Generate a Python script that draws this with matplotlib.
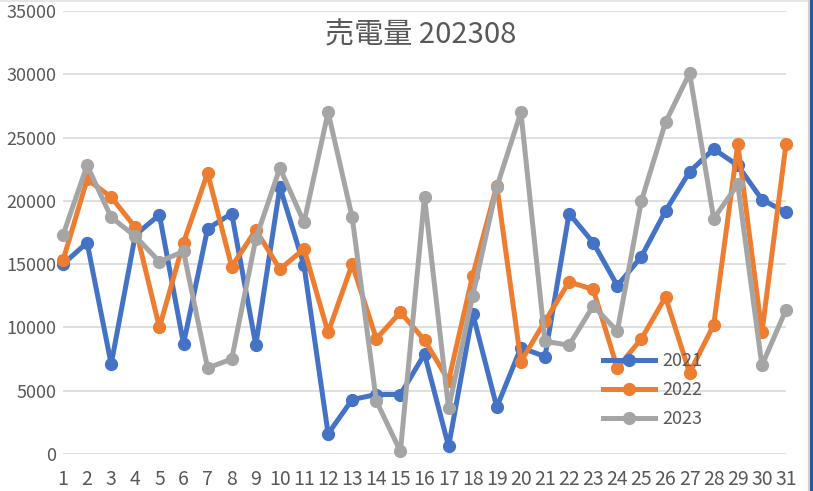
import matplotlib
matplotlib.use("Agg")
import matplotlib.pyplot as plt
from matplotlib.patches import Rectangle
from matplotlib.lines import Line2D

plt.rcParams['font.family'] = ['Noto Sans CJK JP', 'DejaVu Sans']

# data
days = list(range(1, 32))
day_labels = [str(d) for d in days]
series_names = ['2021', '2022', '2023']
y2021 = [15000, 16700, 7100, 17300, 18900, 8700, 17800, 19000, 8600, 21100,
         14900, 1600, 4300, 4700, 4700, 7900, 600, 11100, 3700, 8400,
         7700, 19000, 16700, 13300, 15600, 19200, 22300, 24100, 22800, 20100, 19100]
y2022 = [15300, 21700, 20300, 17900, 10000, 16700, 22200, 14800, 17700, 14600,
         16200, 9600, 15000, 9100, 11200, 9000, 5800, 14100, 21200, 7300,
         10500, 13600, 13000, 6800, 9100, 12400, 6400, 10200, 24500, 9600, 24500]
y2023 = [17300, 22800, 18700, 17200, 15200, 16000, 6800, 7500, 17000, 22600,
         18300, 27000, 18700, 4200, 200, 20300, 3600, 12500, 21100, 27000,
         8900, 8600, 11700, 9700, 20000, 26200, 30100, 18600, 21300, 7000, 11400]
y_ticks = [0, 5000, 10000, 15000, 20000, 25000, 30000, 35000]
title = '売電量 202308'

colors = ['#4472C4', '#ED7D31', '#A5A5A5']
W, H = 813, 491

fig = plt.figure(figsize=(W / 100, H / 100), dpi=100)
# plot area in pixels: x 63..786, y 11..454
ax = fig.add_axes([63 / W, 1 - 454 / H, (786 - 63) / W, (454 - 11) / H])

for vals, name, c in zip([y2021, y2022, y2023], series_names, colors):
    ax.plot(days, vals, color=c, lw=3.6, marker='o', markersize=8.5,
            solid_joinstyle='round', label=name, clip_on=False)

ax.set_xlim(1, 31)
ax.set_ylim(0, 35000)
ax.set_yticks(y_ticks)
ax.set_yticklabels([str(v) for v in y_ticks])
ax.set_xticks(days)
ax.set_xticklabels(day_labels)
ax.grid(axis='y', color='#D9D9D9', lw=1.2)
ax.grid(axis='x', visible=False)
ax.set_axisbelow(True)
for s in ax.spines.values():
    s.set_visible(False)
ax.tick_params(axis='y', length=0, pad=5, labelsize=13, labelcolor='#595959')
ax.tick_params(axis='x', length=0, pad=11, labelsize=14, labelcolor='#595959')

fig.text(421 / W, 1 - 35 / H, title, ha='center', va='center',
         fontsize=21, color='#595959')

handles = [Line2D([], [], color=c, lw=3.6, marker='o', markersize=8.5) for c in colors]
fig.legend(handles, series_names, loc='upper left',
           bbox_to_anchor=(603 / W, 1 - 352 / H), bbox_transform=fig.transFigure,
           frameon=False, fontsize=13, labelcolor='#595959',
           handlelength=2.9, handletextpad=0.4, labelspacing=0.62,
           borderpad=0, borderaxespad=0)

# window edges seen in the screenshot
fig.add_artist(Rectangle((0, 1 - 2 / H), 1, 2 / H, transform=fig.transFigure,
                         color='#E6E6E6', lw=0))
fig.add_artist(Rectangle((808 / W, 0), 1.5 / W, 1, transform=fig.transFigure,
                         color='#D0D0D0', lw=0))
fig.add_artist(Rectangle((810 / W, 0), 3 / W, 1, transform=fig.transFigure,
                         color='#2B579A', lw=0))

fig.savefig('out.png', dpi=100)
